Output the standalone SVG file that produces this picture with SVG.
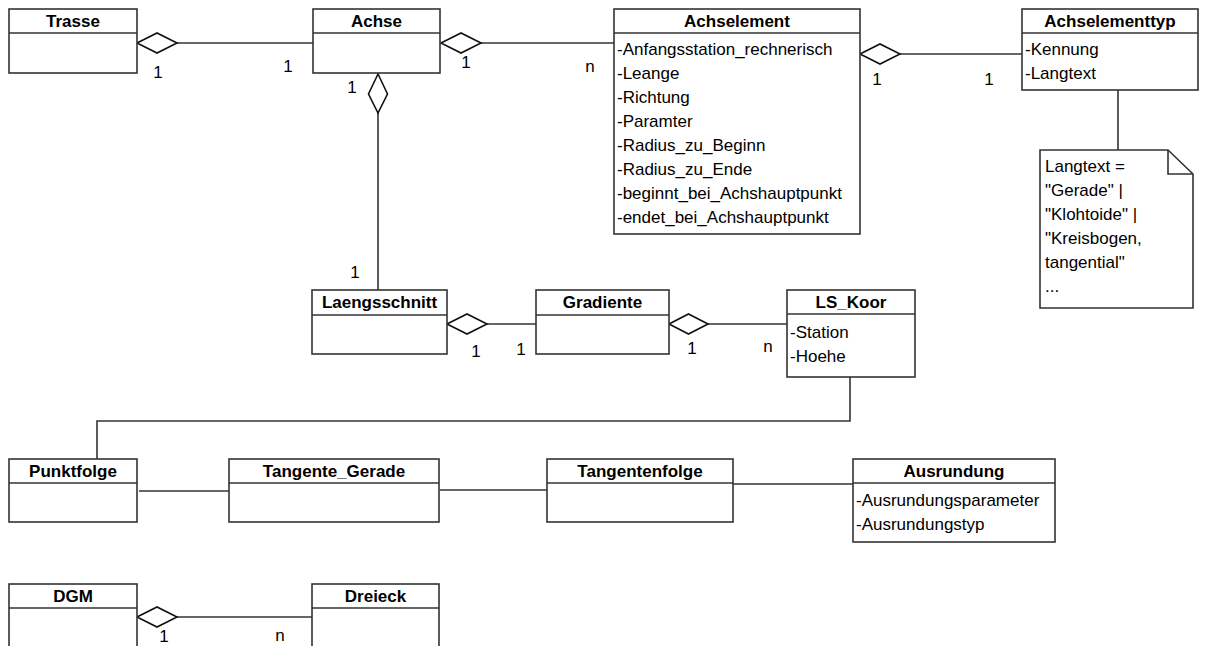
<svg xmlns="http://www.w3.org/2000/svg" width="1210" height="646" viewBox="0 0 1210 646">
<style>
.box{fill:#fff;stroke:#333;stroke-width:1.6}
.ln{fill:none;stroke:#333;stroke-width:1.6}
.dia{fill:#fff;stroke:#111;stroke-width:1.6}
.h{font-family:"Liberation Sans",Arial,sans-serif;font-size:17px;font-weight:bold;text-anchor:middle;fill:#000}
.a{font-family:"Liberation Sans",Arial,sans-serif;font-size:17px;fill:#000}
.m{font-family:"Liberation Sans",Arial,sans-serif;font-size:17px;fill:#000;text-anchor:middle}
</style>
<g id="connectors">
<line class="ln" x1="177" y1="43" x2="313" y2="43"/>
<polygon class="dia" points="137,43 157,33 177,43 157,53"/>
<line class="ln" x1="481" y1="43" x2="614" y2="43"/>
<polygon class="dia" points="441,43 461,33 481,43 461,53"/>
<line class="ln" x1="900" y1="54" x2="1022" y2="54"/>
<polygon class="dia" points="860,54 880,44 900,54 880,64"/>
<line class="ln" x1="378" y1="113" x2="378" y2="290"/>
<polygon class="dia" points="378,74 387.5,94 378,113 368.5,94"/>
<line class="ln" x1="487" y1="324" x2="536" y2="324"/>
<polygon class="dia" points="447,324 467,314 487,324 467,334"/>
<line class="ln" x1="708" y1="324" x2="787" y2="324"/>
<polygon class="dia" points="669,324 688.5,314 708,324 688.5,334"/>
<polyline class="ln" points="850,377 850,421 97,421 97,459"/>
<line class="ln" x1="139" y1="491" x2="229" y2="491"/>
<line class="ln" x1="440" y1="490" x2="547" y2="490"/>
<line class="ln" x1="733" y1="484" x2="853" y2="484"/>
<line class="ln" x1="1118" y1="90" x2="1118" y2="150"/>
<line class="ln" x1="177" y1="617" x2="312" y2="617"/>
<polygon class="dia" points="137,617 157,607 177,617 157,627"/>
<text class="m" x="158" y="78">1</text>
<text class="m" x="288" y="72">1</text>
<text class="m" x="466" y="68">1</text>
<text class="m" x="590" y="72">n</text>
<text class="m" x="877" y="85">1</text>
<text class="m" x="989" y="85">1</text>
<text class="m" x="352" y="93">1</text>
<text class="m" x="355" y="278">1</text>
<text class="m" x="476" y="357">1</text>
<text class="m" x="521" y="355">1</text>
<text class="m" x="692" y="354">1</text>
<text class="m" x="768" y="352">n</text>
<text class="m" x="164" y="642">1</text>
<text class="m" x="280" y="641">n</text>
</g>
<g id="Trasse">
<rect class="box" x="9" y="9" width="128" height="64"/>
<line class="ln" x1="9" y1="33" x2="137" y2="33"/>
<text class="h" x="73" y="27">Trasse</text>
</g>
<g id="Achse">
<rect class="box" x="313" y="9" width="127" height="64"/>
<line class="ln" x1="313" y1="33" x2="440" y2="33"/>
<text class="h" x="376.5" y="27">Achse</text>
</g>
<g id="Achselement">
<rect class="box" x="614" y="9" width="246" height="225"/>
<line class="ln" x1="614" y1="33" x2="860" y2="33"/>
<text class="h" x="737" y="27">Achselement</text>
<text class="a" x="617" y="55">-Anfangsstation_rechnerisch</text>
<text class="a" x="617" y="79">-Leange</text>
<text class="a" x="617" y="103">-Richtung</text>
<text class="a" x="617" y="127">-Paramter</text>
<text class="a" x="617" y="151">-Radius_zu_Beginn</text>
<text class="a" x="617" y="175">-Radius_zu_Ende</text>
<text class="a" x="617" y="199">-beginnt_bei_Achshauptpunkt</text>
<text class="a" x="617" y="223">-endet_bei_Achshauptpunkt</text>
</g>
<g id="Achselementtyp">
<rect class="box" x="1022" y="9" width="176" height="81"/>
<line class="ln" x1="1022" y1="33" x2="1198" y2="33"/>
<text class="h" x="1110" y="27">Achselementtyp</text>
<text class="a" x="1025" y="55">-Kennung</text>
<text class="a" x="1025" y="79">-Langtext</text>
</g>
<g id="Note">
<path class="box" d="M1040,150 H1168 L1193,174 V308 H1040 Z"/>
<path class="ln" d="M1168,150 V174 H1193"/>
<text class="a" x="1045" y="172">Langtext =</text>
<text class="a" x="1045" y="196">"Gerade" |</text>
<text class="a" x="1045" y="220">"Klohtoide" |</text>
<text class="a" x="1045" y="244">"Kreisbogen,</text>
<text class="a" x="1045" y="268">tangential"</text>
<text class="a" x="1045" y="292">...</text>
</g>
<g id="Laengsschnitt">
<rect class="box" x="312" y="290" width="135" height="64"/>
<line class="ln" x1="312" y1="315" x2="447" y2="315"/>
<text class="h" x="379.5" y="308">Laengsschnitt</text>
</g>
<g id="Gradiente">
<rect class="box" x="536" y="290" width="133" height="64"/>
<line class="ln" x1="536" y1="315" x2="669" y2="315"/>
<text class="h" x="602.5" y="308">Gradiente</text>
</g>
<g id="LS_Koor">
<rect class="box" x="787" y="290" width="128" height="87"/>
<line class="ln" x1="787" y1="314" x2="915" y2="314"/>
<text class="h" x="851" y="308">LS_Koor</text>
<text class="a" x="790" y="338">-Station</text>
<text class="a" x="790" y="362">-Hoehe</text>
</g>
<g id="Punktfolge">
<rect class="box" x="9" y="459" width="128" height="63"/>
<line class="ln" x1="9" y1="483" x2="137" y2="483"/>
<text class="h" x="73" y="477">Punktfolge</text>
</g>
<g id="Tangente_Gerade">
<rect class="box" x="229" y="459" width="210" height="63"/>
<line class="ln" x1="229" y1="483" x2="439" y2="483"/>
<text class="h" x="334" y="477">Tangente_Gerade</text>
</g>
<g id="Tangentenfolge">
<rect class="box" x="547" y="459" width="186" height="63"/>
<line class="ln" x1="547" y1="483" x2="733" y2="483"/>
<text class="h" x="640" y="477">Tangentenfolge</text>
</g>
<g id="Ausrundung">
<rect class="box" x="853" y="459" width="202" height="83"/>
<line class="ln" x1="853" y1="483" x2="1055" y2="483"/>
<text class="h" x="954" y="477">Ausrundung</text>
<text class="a" x="856" y="506">-Ausrundungsparameter</text>
<text class="a" x="856" y="530">-Ausrundungstyp</text>
</g>
<g id="DGM">
<rect class="box" x="9" y="584" width="128" height="70"/>
<line class="ln" x1="9" y1="608" x2="137" y2="608"/>
<text class="h" x="73" y="602">DGM</text>
</g>
<g id="Dreieck">
<rect class="box" x="312" y="584" width="127" height="70"/>
<line class="ln" x1="312" y1="608" x2="439" y2="608"/>
<text class="h" x="375.5" y="602">Dreieck</text>
</g>
</svg>
